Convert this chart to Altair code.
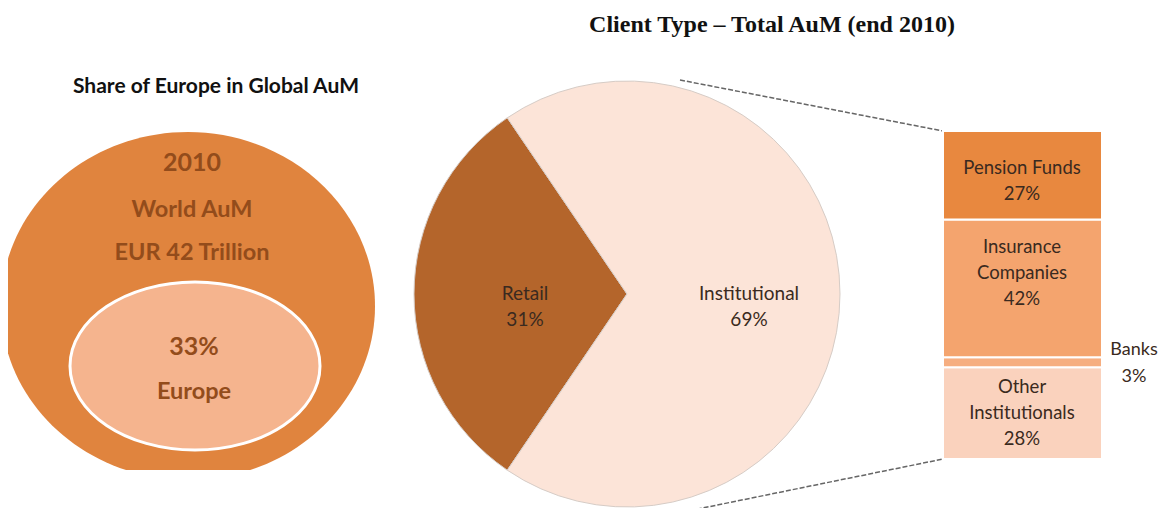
import math
import altair as alt
import pandas as pd

# ---------------- data ----------------
main_title = "Client Type – Total AuM (end 2010)"
left_title = "Share of Europe in Global AuM"
world_year = "2010"
world_lines = ["World AuM", "EUR 42 Trillion"]
europe_pct = "33%"
europe_name = "Europe"

client_types = ["Retail", "Institutional"]
client_shares = [31, 69]

inst_types = ["Other Institutionals", "Banks", "Insurance Companies", "Pension Funds"]
inst_label_names = ["Other\nInstitutionals", "Banks", "Insurance\nCompanies", "Pension Funds"]
inst_shares = [28, 3, 42, 27]

seg_domain = client_types + inst_types
seg_colors = ["#B4652B", "#FCE4D8", "#FAD2BD", "#F6AE80", "#F4A46E", "#E8883F"]

FONT = "Lato"
TXT = "#3a2a20"
BROWN_TXT = "#934c1b"

# ---------------- tables ----------------
pie_df = pd.DataFrame({
    "seg": client_types,
    "value": client_shares,
    "order": list(range(len(client_types))),
    "label": [f"{n}\n{v}%" for n, v in zip(client_types, client_shares)],
})

bar_df = pd.DataFrame({
    "seg": inst_types,
    "value": inst_shares,
    "order": list(range(len(inst_types))),
    "label": [f"{n}\n{v}%" for n, v in zip(inst_label_names, inst_shares)],
})

one = pd.DataFrame({"k": [0]})

color_scale = alt.Scale(domain=seg_domain, range=seg_colors)
y_scale = alt.Scale(domain=[0, 100], range=[451, 123])
start = 1.5 * math.pi - math.pi * client_shares[0] / 100
theta_scale = alt.Scale(range=[start, start + 2 * math.pi])

PX, PY = 619, 286  # pie centre

# ---------------- left panel ----------------
outer = alt.Chart(one).mark_point(
    shape="M -1 0 A 1 0.93 0 1 0 1 0 A 1 0.93 0 1 0 -1 0 Z",
    filled=True, fill="#E0843E", opacity=1, strokeWidth=0, size=374 * 374,
).encode(x=alt.value(180), y=alt.value(298))

inner = alt.Chart(one).mark_point(
    shape="M -1 0 A 1 0.672 0 1 0 1 0 A 1 0.672 0 1 0 -1 0 Z",
    filled=True, fill="#F5B48E", opacity=1, stroke="white", strokeWidth=3, strokeOpacity=1,
    size=250 * 250,
).encode(x=alt.value(187), y=alt.value(358))

cover = alt.Chart(one).mark_rect(color="white").encode(
    x=alt.value(0), x2=alt.value(400), y=alt.value(462), y2=alt.value(520)
)

t_left = alt.Chart(one).mark_text(font=FONT, fontWeight="bold", fontSize=21, color="#111").encode(
    x=alt.value(208), y=alt.value(79), text=alt.value(left_title))
t_year = alt.Chart(one).mark_text(font=FONT, fontWeight="bold", fontSize=25, color=BROWN_TXT).encode(
    x=alt.value(184), y=alt.value(155), text=alt.value(world_year))
t_world = alt.Chart(one).mark_text(font=FONT, fontWeight="bold", fontSize=23.5, color=BROWN_TXT,
                                   lineBreak="\n", lineHeight=43).encode(
    x=alt.value(184), y=alt.value(202), text=alt.value("\n".join(world_lines)))
t_pct = alt.Chart(one).mark_text(font=FONT, fontWeight="bold", fontSize=25, color=BROWN_TXT).encode(
    x=alt.value(186), y=alt.value(339), text=alt.value(europe_pct))
t_eu = alt.Chart(one).mark_text(font=FONT, fontWeight="bold", fontSize=23.5, color=BROWN_TXT).encode(
    x=alt.value(186), y=alt.value(384), text=alt.value(europe_name))

# ---------------- pie ----------------
pie = alt.Chart(pie_df).mark_arc(outerRadius=213, stroke="#d6ccc6", strokeWidth=1).encode(
    theta=alt.Theta("value:Q", stack=True, scale=theta_scale),
    color=alt.Color("seg:N", scale=color_scale, legend=None),
    order=alt.Order("order:Q"),
    x=alt.value(PX), y=alt.value(PY),
)
pie_text = alt.Chart(pie_df).mark_text(
    radius=112, dx=10, font=FONT, fontSize=19, color=TXT, lineBreak="\n", lineHeight=26
).encode(
    theta=alt.Theta("value:Q", stack=True, scale=theta_scale),
    order=alt.Order("order:Q"),
    text="label:N",
    x=alt.value(PX), y=alt.value(PY),
)

# ---------------- connectors ----------------
line_top = alt.Chart(one).mark_rule(color="#666", strokeWidth=1.5, strokeDash=[5, 2]).encode(
    x=alt.value(672), y=alt.value(72), x2=alt.value(935), y2=alt.value(123))
line_bot = alt.Chart(one).mark_rule(color="#666", strokeWidth=1.5, strokeDash=[5, 2]).encode(
    x=alt.value(675), y=alt.value(504), x2=alt.value(935), y2=alt.value(451))

# ---------------- stacked bar ----------------
stacked = alt.Chart(bar_df).transform_stack(
    stack="value", as_=["y0", "y1"], groupby=[], sort=[alt.SortField("order", order="ascending")]
).transform_calculate(mid="(datum.y0 + datum.y1) / 2")

bar = stacked.mark_rect(stroke="white", strokeWidth=2).encode(
    x=alt.value(935), x2=alt.value(1094),
    y=alt.Y("y0:Q", scale=y_scale, axis=None),
    y2="y1:Q",
    color=alt.Color("seg:N", scale=color_scale, legend=None),
)

# vertical offsets so that each multi-line label block sits as in the source
label_dy = {"Pension Funds": -7, "Insurance Companies": -41, "Other Institutionals": -26}
bar_texts = [
    stacked.transform_filter(f"datum.seg == '{s}'").mark_text(
        font=FONT, fontSize=18.5, color=TXT, lineBreak="\n", lineHeight=26, dy=d
    ).encode(x=alt.value(1014), y=alt.Y("mid:Q", scale=y_scale, axis=None), text="label:N")
    for s, d in label_dy.items()
]
banks_text = stacked.transform_filter("datum.seg == 'Banks'").mark_text(
    font=FONT, fontSize=18, color=TXT, lineBreak="\n", lineHeight=27, dy=-12
).encode(x=alt.value(1126), y=alt.Y("mid:Q", scale=y_scale, axis=None), text="label:N")

title = alt.Chart(one).mark_text(font="Liberation Serif", fontWeight="bold", fontSize=24, color="#111").encode(
    x=alt.value(764), y=alt.value(17), text=alt.value(main_title))

chart = alt.layer(
    outer, inner, cover, t_left, t_year, t_world, t_pct, t_eu,
    pie, pie_text, line_top, line_bot, bar, *bar_texts, banks_text, title,
).properties(
    width=1156, height=500, padding=0, autosize=alt.AutoSizeParams(type="none"),
).configure_view(strokeWidth=0)

chart.save("out.html", embed_options={"renderer": "svg", "actions": False})
